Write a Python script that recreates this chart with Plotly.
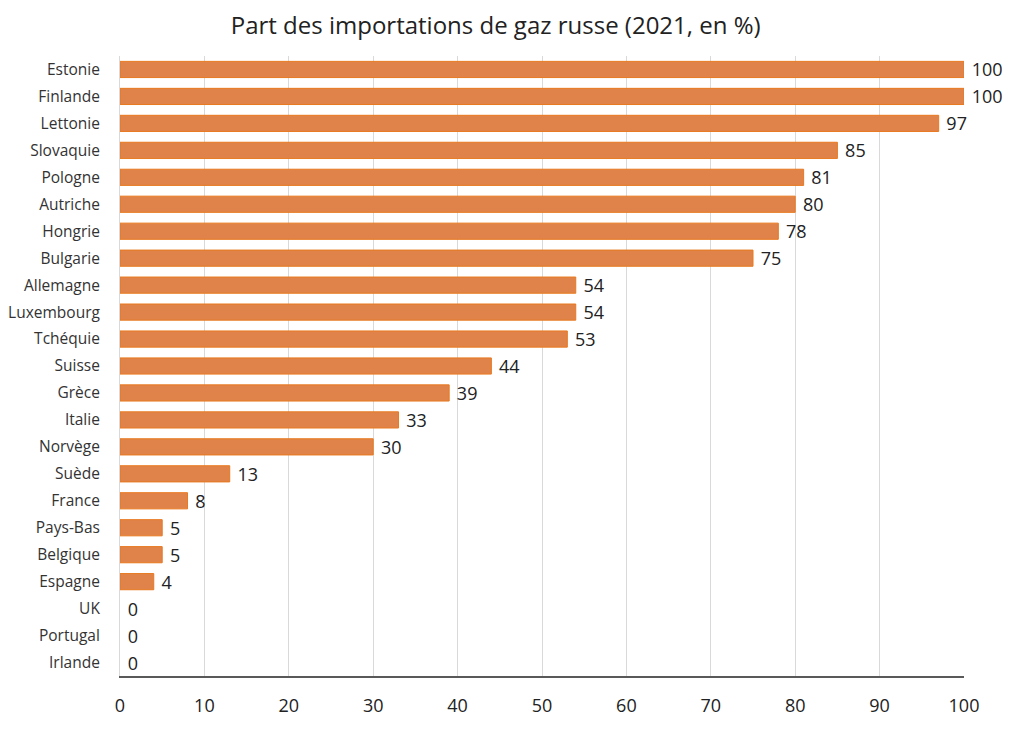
import plotly.graph_objects as go

pays = ["Estonie", "Finlande", "Lettonie", "Slovaquie", "Pologne", "Autriche",
        "Hongrie", "Bulgarie", "Allemagne", "Luxembourg", "Tchéquie", "Suisse",
        "Grèce", "Italie", "Norvège", "Suède", "France", "Pays-Bas", "Belgique",
        "Espagne", "UK", "Portugal", "Irlande"]
parts = [100, 100, 97, 85, 81, 80, 78, 75, 54, 54, 53, 44, 39, 33, 30, 13, 8, 5, 5, 4, 0, 0, 0]

police = "Open Sans, Noto Sans, sans-serif"

fig = go.Figure()
fig.add_trace(go.Bar(
    x=parts, y=pays, orientation="h",
    marker=dict(color="#E0834A",
                line=dict(color="#E8791F", width=[1 if v > 0 else 0 for v in parts])),
    width=0.6,
    text=["\u00a0" + str(v) for v in parts], textposition="outside",
    constraintext="none",
    textfont=dict(size=18, color="#222222", family=police),
    cliponaxis=False,
))

# la page ajoute 8 px de marge au body (haut et gauche) : on compense
fig.update_layout(
    width=1016, height=723,
    title=dict(text="Part des importations de gaz russe (2021, en %)",
               x=0.480, xanchor="center", y=0.976, yanchor="middle",
               font=dict(size=24, color="#222222", family=police)),
    margin=dict(l=112, r=60, t=48, b=55),
    plot_bgcolor="white", paper_bgcolor="white",
    showlegend=False,
    font=dict(family=police, color="#333333"),
)
fig.update_xaxes(range=[0, 100], dtick=10, showgrid=True, gridcolor="#D9D9D9",
                 gridwidth=1, zeroline=False, showline=True, linecolor="#595959",
                 linewidth=1.5, ticks="", ticklabelstandoff=13, automargin=False,
                 tickfont=dict(size=18, color="#222222"))
fig.update_yaxes(autorange="reversed", showgrid=False, zeroline=False,
                 showline=True, linecolor="#D9D9D9", ticks="", automargin=False,
                 ticklabelstandoff=16, tickfont=dict(size=15.5, color="#333333"))

fig.write_html("out.html")
